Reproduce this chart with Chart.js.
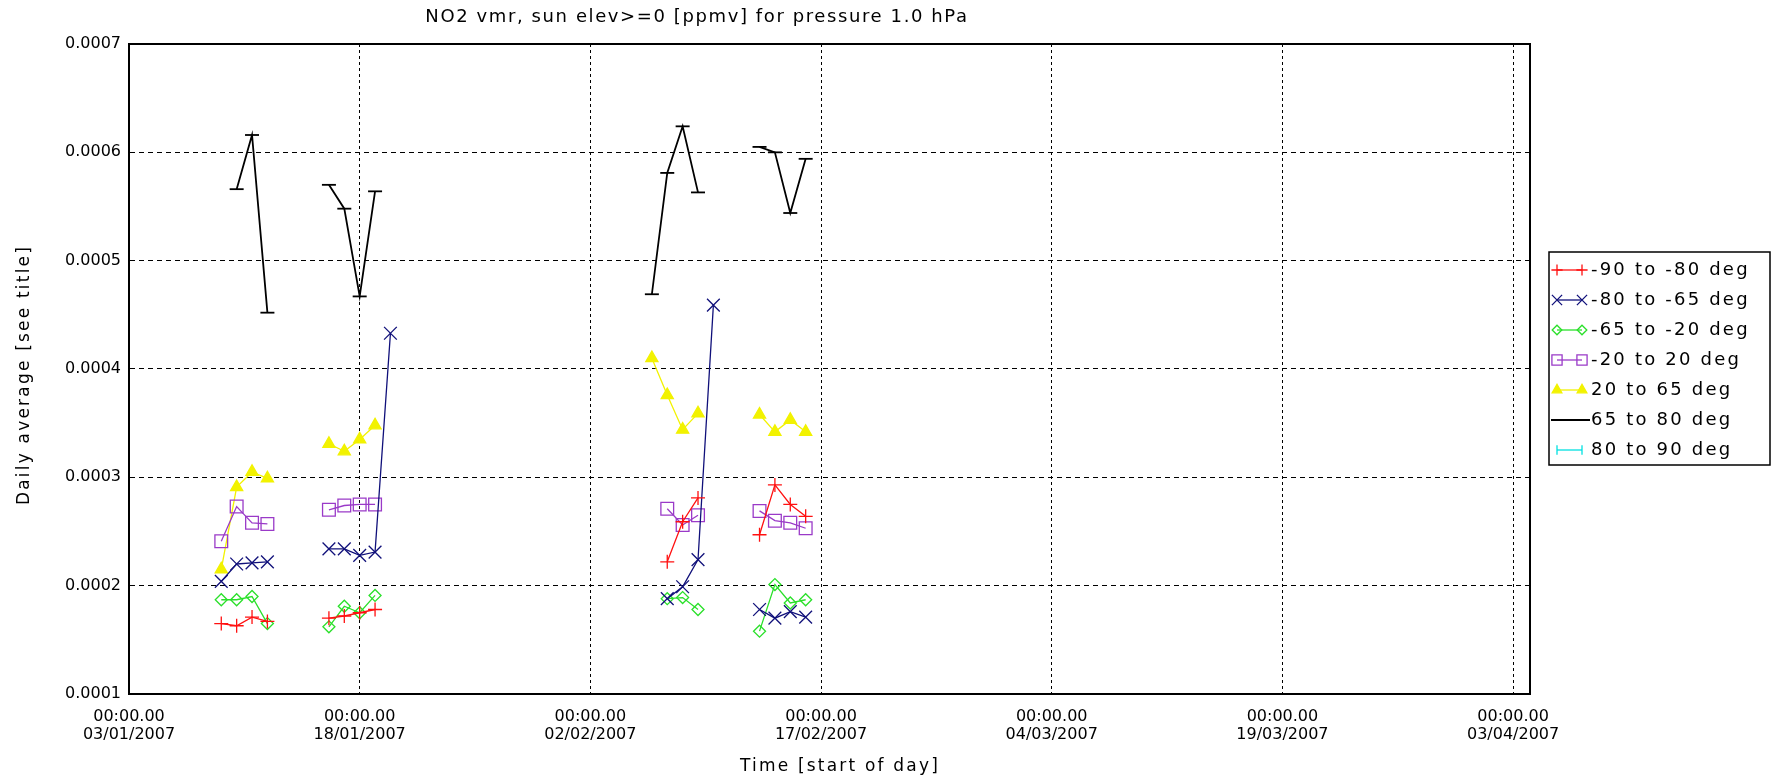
<!DOCTYPE html>
<html>
<head>
<meta charset="utf-8">
<script src="https://cdn.jsdelivr.net/npm/chart.js@4.4.1/dist/chart.umd.min.js"></script>
<style>
  html, body { margin: 0; padding: 0; background: #ffffff; }
  #wrap { width: 1782px; height: 780px; }
</style>
</head>
<body>
<div id="wrap"><canvas id="c" width="1782" height="780"></canvas></div>
<script>
// ---------------- data ----------------
const chartTitle = 'NO2 vmr, sun elev>=0 [ppmv] for pressure 1.0 hPa';
const yAxisTitle = 'Daily average [see title]';
const xAxisTitle = 'Time [start of day]';
const axisStartDate = '2007-01-03';

const seriesNames = ['-90 to -80 deg', '-80 to -65 deg', '-65 to -20 deg', '-20 to 20 deg',
                     '20 to 65 deg', '65 to 80 deg', '80 to 90 deg'];

const dates = ['2007-01-09', '2007-01-10', '2007-01-11', '2007-01-12',
               '2007-01-16', '2007-01-17', '2007-01-18', '2007-01-19', '2007-01-20',
               '2007-02-06', '2007-02-07', '2007-02-08', '2007-02-09', '2007-02-10',
               '2007-02-13', '2007-02-14', '2007-02-15', '2007-02-16'];

const latS90toS80 = [0.000165, 0.000163, 0.000171, 0.000167,
                     0.000170, 0.000172, 0.000175, 0.000178, null,
                     null, 0.000222, 0.000259, 0.000281, null,
                     0.000247, 0.000293, 0.000275, 0.000264];
const latS80toS65 = [0.000204, 0.000220, 0.000221, 0.000222,
                     0.000234, 0.000234, 0.000228, 0.000231, 0.000433,
                     null, 0.000188, 0.000199, 0.000224, 0.000459,
                     0.000178, 0.000170, 0.000176, 0.000171];
const latS65toS20 = [0.000187, 0.000187, 0.000190, 0.000165,
                     0.000162, 0.000181, 0.000175, 0.000191, null,
                     null, 0.000188, 0.000189, 0.000178, null,
                     0.000158, 0.000201, 0.000184, 0.000187];
const latS20toN20 = [0.000241, 0.000273, 0.000258, 0.000257,
                     0.000270, 0.000274, 0.000275, 0.000275, null,
                     null, 0.000271, 0.000256, 0.000265, null,
                     0.000269, 0.000260, 0.000258, 0.000253];
const latN20toN65 = [0.000215, 0.000291, 0.000305, 0.000299,
                     0.000331, 0.000324, 0.000335, 0.000348, null,
                     0.000410, 0.000376, 0.000344, 0.000359, null,
                     0.000358, 0.000342, 0.000353, 0.000342];
const latN65toN80 = [null, 0.000566, 0.000616, 0.000452,
                     0.000570, 0.000548, 0.000467, 0.000564, null,
                     0.000469, 0.000581, 0.000624, 0.000563, null,
                     0.000605, 0.000600, 0.000544, 0.000594];
const latN80toN90 = [null, null, null, null,
                     null, null, null, null, null,
                     null, null, null, null, null,
                     null, null, null, null];

const xTickDates = ['03/01/2007', '18/01/2007', '02/02/2007', '17/02/2007',
                    '04/03/2007', '19/03/2007', '03/04/2007'];
const xTickTime = '00:00.00';
const yTicks = [0.0001, 0.0002, 0.0003, 0.0004, 0.0005, 0.0006, 0.0007];

// ---------------- helpers ----------------
function dayOffset(iso) {
  const [y, m, d] = iso.split('-').map(Number);
  const [y0, m0, d0] = axisStartDate.split('-').map(Number);
  return (Date.UTC(y, m - 1, d) - Date.UTC(y0, m0 - 1, d0)) / 86400000;
}
function dmyOffset(dmy) {
  const [d, m, y] = dmy.split('/');
  return dayOffset(`${y}-${m}-${d}`);
}
const dayValues = dates.map(dayOffset);
function buildPoints(values) {
  const pts = [];
  for (let i = 0; i < values.length; i++) {
    if (i > 0 && dayValues[i] - dayValues[i - 1] > 1) {
      pts.push({ x: (dayValues[i] + dayValues[i - 1]) / 2, y: null });
    }
    pts.push({ x: dayValues[i], y: values[i] });
  }
  return pts;
}
const xTickValues = xTickDates.map(dmyOffset);

// ---------------- styles ----------------
const FONT = '"DejaVu Sans", sans-serif';
Chart.defaults.font.family = FONT;
Chart.defaults.color = '#000';

const none = 'rgba(0,0,0,0)';
const datasetStyles = [
  { color: '#ff1010', pointStyle: 'cross',    radius: 7, fill: none, legendRotation: 0 },
  { color: '#10107a', pointStyle: 'crossRot', radius: 9, fill: none, legendRotation: 0 },
  { color: '#2ae02a', pointStyle: 'rectRot',  radius: 6, fill: none, legendRotation: 0 },
  { color: '#9a3ac8', pointStyle: 'rect',     radius: 9, fill: none, legendRotation: 0 },
  { color: '#f2f200', pointStyle: 'triangle', radius: 7, fill: '#f2f200', legendRotation: 0 },
  { color: '#000000', pointStyle: 'line',     radius: 7, fill: none, legendRotation: 0, noLegendMarker: true, width: 1.8 },
  { color: '#00e0e0', pointStyle: 'line',     radius: 6, fill: none, legendRotation: 90 }
];
const seriesValues = [latS90toS80, latS80toS65, latS65toS20, latS20toN20, latN20toN65, latN65toN80, latN80toN90];

const datasets = seriesValues.map((vals, i) => {
  const st = datasetStyles[i];
  return {
    label: seriesNames[i],
    data: buildPoints(vals),
    borderColor: st.color,
    backgroundColor: st.fill,
    borderWidth: st.width || 1.3,
    pointStyle: st.pointStyle,
    pointRadius: st.radius,
    pointHoverRadius: st.radius,
    pointBorderWidth: st.width || 1.3,
    pointBorderColor: st.color,
    pointBackgroundColor: st.fill,
    spanGaps: false,
    tension: 0,
    _st: st
  };
});

function setSpacing(ctx, px) {
  if ('letterSpacing' in ctx) ctx.letterSpacing = px + 'px';
}

// ---------------- plugins ----------------
const framePlugin = {
  id: 'frame',
  afterDraw(chart) {
    const { ctx, chartArea: a } = chart;
    ctx.save();
    ctx.strokeStyle = '#000';
    ctx.lineWidth = 2;
    ctx.strokeRect(a.left, a.top, a.right - a.left, a.bottom - a.top);
    ctx.restore();
  }
};

const textPlugin = {
  id: 'idlTexts',
  afterDraw(chart) {
    const ctx = chart.ctx;
    const a = chart.chartArea;
    ctx.save();
    ctx.fillStyle = '#000';
    ctx.textAlign = 'center';
    ctx.textBaseline = 'middle';
    // main title
    ctx.font = '18px ' + FONT;
    setSpacing(ctx, 1.6);
    ctx.fillText(chartTitle, 697, 17);
    // x axis title
    ctx.font = '17px ' + FONT;
    setSpacing(ctx, 2.2);
    ctx.fillText(xAxisTitle, 840, 767);
    // y axis title
    ctx.translate(25, (a.top + a.bottom) / 2 + 6);
    ctx.rotate(-Math.PI / 2);
    ctx.fillText(yAxisTitle, 0, 0);
    ctx.restore();
  }
};

const legendPlugin = {
  id: 'idlLegend',
  afterDraw(chart) {
    const ctx = chart.ctx;
    const bx = 1549, by = 252, bw = 221, bh = 213;
    ctx.save();
    ctx.fillStyle = '#fff';
    ctx.fillRect(bx, by, bw, bh);
    ctx.strokeStyle = '#000';
    ctx.lineWidth = 1.5;
    ctx.strokeRect(bx, by, bw, bh);
    ctx.font = '18px ' + FONT;
    setSpacing(ctx, 2.2);
    ctx.textBaseline = 'middle';
    ctx.textAlign = 'left';
    chart.data.datasets.forEach((ds, i) => {
      const st = ds._st;
      const y = by + 18 + i * 30;
      const x0 = 1557, x1 = 1582;
      ctx.strokeStyle = st.color;
      ctx.lineWidth = ds.borderWidth;
      ctx.beginPath();
      ctx.moveTo(st.noLegendMarker ? 1551 : x0, y);
      ctx.lineTo(st.noLegendMarker ? 1590 : x1, y);
      ctx.stroke();
      if (!st.noLegendMarker) {
        ctx.fillStyle = st.fill;
        [x0, x1].forEach(px => {
          Chart.helpers.drawPoint(ctx, {
            pointStyle: st.pointStyle, radius: st.radius * 0.8,
            rotation: st.legendRotation, borderWidth: ds.borderWidth
          }, px, y);
        });
      }
      ctx.fillStyle = '#000';
      ctx.fillText(ds.label, 1591, y);
    });
    ctx.restore();
  }
};

// ---------------- chart ----------------
new Chart(document.getElementById('c'), {
  type: 'line',
  data: { datasets },
  options: {
    responsive: false,
    animation: false,
    devicePixelRatio: 1,
    layout: { padding: { top: 44, right: 252, bottom: 0, left: 0 } },
    plugins: {
      legend: { display: false },
      title: { display: false },
      tooltip: { enabled: false }
    },
    scales: {
      x: {
        type: 'linear',
        min: 0,
        max: 91.1,
        afterBuildTicks: s => { s.ticks = xTickValues.map(v => ({ value: v })); },
        afterFit: s => { s.height = 86; },
        ticks: {
          autoSkip: false,
          maxRotation: 0,
          padding: 14,
          font: { size: 16, lineHeight: 1.1 },
          color: '#000',
          callback: (v) => {
            const idx = xTickValues.indexOf(v);
            return idx >= 0 ? [xTickTime, xTickDates[idx]] : '';
          }
        },
        grid: { color: '#000', lineWidth: 1, drawTicks: false },
        border: { display: true, color: '#000', width: 2, dash: [3, 3] },
        title: { display: false }
      },
      y: {
        type: 'linear',
        min: 0.0001,
        max: 0.0007,
        afterBuildTicks: s => { s.ticks = yTicks.map(v => ({ value: v })); },
        afterFit: s => { s.width = 129; },
        ticks: {
          padding: 8,
          font: { size: 16 },
          color: '#000',
          callback: v => Number(v).toFixed(4)
        },
        grid: { color: '#000', lineWidth: 1, drawTicks: false },
        border: { display: true, color: '#000', width: 2, dash: [5, 4] },
        title: { display: false }
      }
    }
  },
  plugins: [framePlugin, textPlugin, legendPlugin]
});
</script>
</body>
</html>
